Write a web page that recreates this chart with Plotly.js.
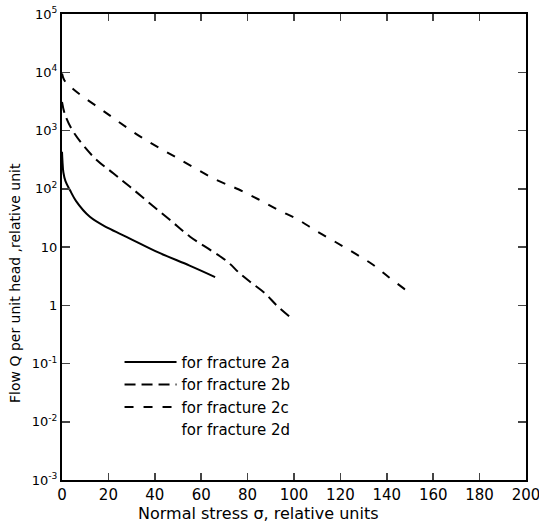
<!DOCTYPE html>
<html>
<head>
<meta charset="utf-8">
<script src="https://cdn.plot.ly/plotly-3.0.1.min.js"></script>
<style>html,body{margin:0;padding:0;background:#fff;overflow:hidden;}#chart{width:539px;height:528px;}</style>
</head>
<body>
<div id="chart"></div>
<script>
// Fracture 2a (solid)
const stress2a = [0, 0.2, 0.6, 1.5, 3.4, 6, 12, 20, 28, 42, 55, 66];
const flow2a   = [430, 300, 190, 135, 95, 62, 33, 21, 14.8, 7.9, 4.8, 3.05];
// Fracture 2b (long dashes)
const stress2b = [0, 1.3, 4.9, 13.5, 22.1, 29.3, 37.9, 46.6, 55.2, 64.5, 71.3, 76.7, 81.8, 87.5, 92.5, 98.1, 99.7];
const flow2b   = [3100, 1870, 950, 355, 184, 108, 56, 29, 15, 8.6, 5.6, 3.5, 2.4, 1.6, 1.0, 0.64, 0.57];
// Fracture 2c (short dashes)
const stress2c = [0, 1, 4.9, 19.3, 34.3, 50.1, 66.7, 76, 84.6, 92.8, 101.4, 109.5, 117.7, 126.6, 133.9, 141, 148.6, 150.3];
const flow2c   = [9500, 7300, 5100, 1970, 760, 330, 141, 98, 66, 44, 30, 19, 12.3, 7.6, 5.0, 3.0, 1.76, 1.5];
// Fracture 2d (listed in the legend, no curve drawn)
const stress2d = [null];
const flow2d   = [null];

const xTicks = [0, 20, 40, 60, 80, 100, 120, 140, 160, 180, 200];
const yTickVals = [1e-3, 1e-2, 1e-1, 1, 10, 100, 1000, 1e4, 1e5];
const yTickText = ['10<sup>-3</sup>', '10<sup>-2</sup>', '10<sup>-1</sup>', '1', '10', '10<sup>2</sup>', '10<sup>3</sup>', '10<sup>4</sup>', '10<sup>5</sup>'];

const FONT = 'DejaVu Sans, Liberation Sans, Arial, sans-serif';

const traces = [
  {x: stress2a, y: flow2a, name: 'for fracture 2a', mode: 'lines', line: {color: '#000', width: 2, shape: 'spline'}},
  {x: stress2b, y: flow2b, name: 'for fracture 2b', mode: 'lines', line: {color: '#000', width: 2, dash: '11px,6px', shape: 'spline'}},
  {x: stress2c, y: flow2c, name: 'for fracture 2c', mode: 'lines', line: {color: '#000', width: 2, dash: '9px,10px', shape: 'spline'}},
  {x: stress2d, y: flow2d, name: 'for fracture 2d', mode: 'lines', line: {color: 'rgba(0,0,0,0)', width: 0}}
];

const layout = {
  width: 539, height: 528,
  margin: {l: 62, r: 13, t: 14, b: 48},
  paper_bgcolor: '#fff', plot_bgcolor: '#fff',
  font: {family: FONT, color: '#000', size: 14},
  showlegend: true,
  legend: {
    x: 0.124, y: 0.288, xanchor: 'left', yanchor: 'top',
    bgcolor: 'rgba(0,0,0,0)', font: {size: 15, family: FONT},
    tracegroupgap: 0, itemwidth: 52
  },
  xaxis: {
    range: [0, 200], tickvals: xTicks, ticks: 'inside', ticklen: 7, tickwidth: 1.5,
    showline: true, linecolor: '#000', linewidth: 2, mirror: 'ticks', automargin: false,
    ticklabeloverflow: 'allow',
    showgrid: false, zeroline: false, tickfont: {size: 15}
  },
  yaxis: {
    type: 'log', range: [-3, 5], tickvals: yTickVals, ticktext: yTickText,
    ticks: 'inside', ticklen: 8, tickwidth: 1.5, automargin: false,
    ticklabeloverflow: 'allow',
    showline: true, linecolor: '#000', linewidth: 2, mirror: 'ticks',
    showgrid: false, zeroline: false, tickfont: {size: 13}
  },
  annotations: [
    {text: 'Normal stress σ, relative units', xref: 'paper', yref: 'paper',
     x: (258 - 62) / 464, y: -(513 - 480) / 466, xanchor: 'center', yanchor: 'middle',
     showarrow: false, font: {size: 16, family: FONT}},
    {text: 'Flow Q per unit head ,relative unit', xref: 'paper', yref: 'paper',
     x: -(62 - 15) / 464, y: (480 - 283) / 466, xanchor: 'center', yanchor: 'middle',
     textangle: -90, showarrow: false, font: {size: 14, family: FONT}}
  ]
};

Plotly.newPlot('chart', traces, layout, {displayModeBar: false, staticPlot: true});
</script>
</body>
</html>
